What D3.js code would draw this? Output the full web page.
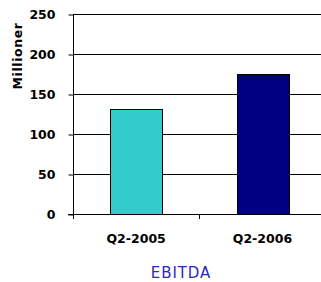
<!DOCTYPE html>
<html>
<head>
<meta charset="utf-8">
<script src="https://cdn.jsdelivr.net/npm/d3@7"></script>
<style>
  html, body { margin: 0; padding: 0; background: #fff; }
  svg { display: block; }
</style>
</head>
<body>
<div id="chart"></div>
<script>
// data
const categories = ['Q2-2005', 'Q2-2006'];
const values = [131, 175];
const barColors = ['#33CCCC', '#000080'];
const yTicks = [0, 50, 100, 150, 200, 250];
const yTitle = 'Millioner';
const xTitle = 'EBITDA';

const width = 321;
const height = 282;
const font = 'Verdana, "DejaVu Sans", sans-serif';

const svg = d3.select('#chart')
  .append('svg')
  .attr('width', width)
  .attr('height', height);

const x = d3.scaleBand()
  .domain(categories)
  .range([73, 325.6])
  .padding(0);

const y = d3.scaleLinear()
  .domain([0, 250])
  .range([214, 14]);

const barW = x.bandwidth() * 0.41;

// gridlines
svg.append('g')
  .selectAll('line')
  .data(yTicks.filter(d => d > 0))
  .enter()
  .append('line')
  .attr('x1', 73)
  .attr('x2', width)
  .attr('y1', d => Math.round(y(d)) + 0.5)
  .attr('y2', d => Math.round(y(d)) + 0.5)
  .attr('stroke', '#000')
  .attr('stroke-width', 1);

// bars
svg.append('g')
  .selectAll('rect')
  .data(values)
  .enter()
  .append('rect')
  .attr('x', (d, i) => Math.round(x(categories[i]) + (x.bandwidth() - barW) / 2) + 0.5)
  .attr('y', d => Math.round(y(d)) + 0.5)
  .attr('width', Math.round(barW))
  .attr('height', d => Math.round(y(0)) - Math.round(y(d)))
  .attr('fill', (d, i) => barColors[i])
  .attr('stroke', '#000')
  .attr('stroke-width', 1);

// y axis
const yAxis = d3.axisLeft(y)
  .tickValues(yTicks)
  .tickSize(5)
  .tickPadding(13);

svg.append('g')
  .attr('transform', 'translate(73.5,0.5)')
  .call(yAxis)
  .call(g => g.select('.domain').remove())
  .call(g => g.selectAll('line').attr('stroke', '#000'))
  .call(g => g.selectAll('text')
    .attr('font-family', font)
    .attr('font-size', '12.5px')
    .attr('font-weight', 'bold')
    .attr('fill', '#000'));

svg.append('line')
  .attr('x1', 73.5).attr('x2', 73.5)
  .attr('y1', 14.5).attr('y2', 219)
  .attr('stroke', '#000');

// x axis
svg.append('line')
  .attr('x1', 68).attr('x2', width)
  .attr('y1', 214.5).attr('y2', 214.5)
  .attr('stroke', '#000');

svg.append('g')
  .selectAll('line')
  .data(categories.slice(1))
  .enter()
  .append('line')
  .attr('x1', d => Math.round(x(d)) + 0.5)
  .attr('x2', d => Math.round(x(d)) + 0.5)
  .attr('y1', 214.5)
  .attr('y2', 219)
  .attr('stroke', '#000');

svg.append('g')
  .selectAll('text')
  .data(categories)
  .enter()
  .append('text')
  .attr('x', d => x(d) + x.bandwidth() / 2)
  .attr('y', 243)
  .attr('text-anchor', 'middle')
  .attr('font-family', font)
  .attr('font-size', '12.5px')
  .attr('font-weight', 'bold')
  .attr('fill', '#000')
  .text(d => d);

// axis titles
svg.append('text')
  .attr('transform', 'translate(21.5,56) rotate(-90)')
  .attr('text-anchor', 'middle')
  .attr('font-family', font)
  .attr('font-size', '12.5px')
  .attr('font-weight', 'bold')
  .attr('letter-spacing', '0.6px')
  .attr('fill', '#000')
  .text(yTitle);

svg.append('text')
  .attr('x', 181)
  .attr('y', 277.5)
  .attr('text-anchor', 'middle')
  .attr('font-family', font)
  .attr('font-size', '15px')
  .attr('letter-spacing', '0.9px')
  .attr('fill', '#2a2ab8')
  .text(xTitle);
</script>
</body>
</html>
